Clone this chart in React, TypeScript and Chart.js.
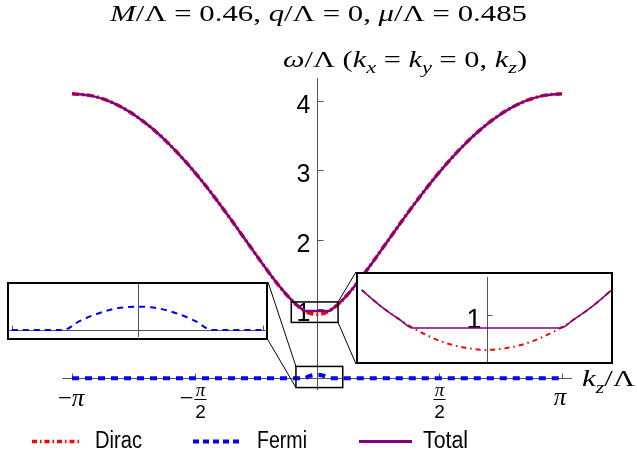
import React, { useEffect, useRef } from "react";
import { Chart, registerables } from "chart.js";
Chart.register(...registerables);

const PI = 3.14159;
// kz grid (units of Λ)
const kz = [-3.1416, -2.9, -2.7, -2.5, -2.3, -2.1, -1.9, -1.7, -1.5, -1.3, -1.1, -0.9, -0.7, -0.5, -0.35, -0.26, -0.22, -0.18, -0.154, -0.12, -0.08, -0.04, 0, 0.04, 0.08, 0.12, 0.154, 0.18, 0.22, 0.26, 0.35, 0.5, 0.7, 0.9, 1.1, 1.3, 1.5, 1.7, 1.9, 2.1, 2.3, 2.5, 2.7, 2.9, 3.1416];
const dirac = [4.104, 4.076, 4.010, 3.906, 3.765, 3.590, 3.381, 3.143, 2.878, 2.590, 2.284, 1.968, 1.652, 1.351, 1.154, 1.056, 1.019, 0.988, 0.970, 0.951, 0.934, 0.924, 0.920, 0.924, 0.934, 0.951, 0.970, 0.988, 1.019, 1.056, 1.154, 1.351, 1.652, 1.968, 2.284, 2.590, 2.878, 3.143, 3.381, 3.590, 3.765, 3.906, 4.010, 4.076, 4.104];
const fermi = [0, 0, 0, 0, 0, 0, 0, 0, 0, 0, 0, 0, 0, 0, 0, 0, 0, 0, 0, 0.019, 0.036, 0.047, 0.050, 0.047, 0.036, 0.019, 0, 0, 0, 0, 0, 0, 0, 0, 0, 0, 0, 0, 0, 0, 0, 0, 0, 0, 0];
const total = [4.104, 4.076, 4.010, 3.906, 3.765, 3.590, 3.381, 3.143, 2.878, 2.590, 2.284, 1.968, 1.652, 1.351, 1.154, 1.056, 1.019, 0.988, 0.970, 0.970, 0.970, 0.970, 0.970, 0.970, 0.970, 0.970, 0.970, 0.988, 1.019, 1.056, 1.154, 1.351, 1.652, 1.968, 2.284, 2.590, 2.878, 3.143, 3.381, 3.590, 3.765, 3.906, 4.010, 4.076, 4.104];

const seriesNames = ["Dirac", "Fermi", "Total"];
const yTicks = [1, 2, 3, 4];
const xTicks = [-PI, -PI / 2, PI / 2, PI];
const insetXTicks = [-0.26, 0.26];
const insetYTicks = [1];
const insetRange = 0.2601;

const SERIF = '"Liberation Serif", "Times New Roman", serif';
const SANS = '"Liberation Sans", Arial, sans-serif';
const RED = "#ff0000";
const BLUE = "#0000ff";
const PURPLE = "#800080";
const AXIS = "#555555";

type Run = { t: string; it?: boolean; sub?: boolean; sans?: boolean };

function drawRuns(
  ctx: CanvasRenderingContext2D,
  runs: Run[],
  x: number,
  y: number,
  size: number,
  align: "left" | "center" | "right" = "left",
  width?: number
) {
  const fonts = runs.map(
    (r) => `${r.it ? "italic " : ""}${r.sub ? Math.round(size * 0.72) : size}px ${r.sans ? SANS : SERIF}`
  );
  let w = 0;
  const ws = runs.map((r, i) => {
    ctx.font = fonts[i];
    const m = ctx.measureText(r.t).width;
    w += m;
    return m;
  });
  const sx = width ? width / w : 1;
  const tw = w * sx;
  const start = align === "center" ? x - tw / 2 : align === "right" ? x - tw : x;
  ctx.save();
  ctx.translate(start, y);
  ctx.scale(sx, 1);
  ctx.textAlign = "left";
  ctx.textBaseline = "alphabetic";
  ctx.fillStyle = "#000";
  let cx = 0;
  runs.forEach((r, i) => {
    ctx.font = fonts[i];
    ctx.fillText(r.t, cx, r.sub ? size * 0.28 : 0);
    cx += ws[i];
  });
  ctx.restore();
}

function line(ctx: CanvasRenderingContext2D, x1: number, y1: number, x2: number, y2: number) {
  ctx.beginPath();
  ctx.moveTo(x1, y1);
  ctx.lineTo(x2, y2);
  ctx.stroke();
}

function drawFraction(ctx: CanvasRenderingContext2D, cx: number) {
  ctx.save();
  ctx.fillStyle = "#000";
  ctx.textAlign = "center";
  ctx.textBaseline = "alphabetic";
  ctx.font = `italic 19px ${SERIF}`;
  ctx.fillText("π", cx, 396);
  ctx.strokeStyle = "#000";
  ctx.lineWidth = 1;
  line(ctx, cx - 6, 399.5, cx + 6, 399.5);
  ctx.font = `19px ${SANS}`;
  ctx.fillText("2", cx, 418);
  ctx.restore();
}

// Inset placement (page pixels)
const RIGHT_INSET = { left: 356, top: 272, width: 257, height: 92 };
const LEFT_INSET = { left: 7, top: 282, width: 261, height: 58 };
// Zoom rectangles in data coordinates
const upperRect = { x1: -0.33, x2: 0.27, y1: 0.805, y2: 1.1 };
const lowerRect = { x1: -0.27, x2: 0.33, y1: -0.135, y2: 0.17 };

const pts = (ys: number[]) => kz.map((k, i) => ({ x: k, y: ys[i] }));
const ptsInset = (ys: number[]) =>
  kz.map((k, i) => ({ x: k, y: ys[i] })).filter((p) => Math.abs(p.x) <= insetRange);

export default function App() {
  const mainRef = useRef<HTMLCanvasElement>(null);
  const rightRef = useRef<HTMLCanvasElement>(null);
  const leftRef = useRef<HTMLCanvasElement>(null);

  useEffect(() => {
    const mainPlugin = {
      id: "mainDecor",
      beforeDatasetsDraw(chart: any) {
        const { ctx, chartArea } = chart;
        const xs = chart.scales.x;
        const ys = chart.scales.y;
        const x0 = Math.round(xs.getPixelForValue(0)) + 0.5;
        const y0 = Math.round(ys.getPixelForValue(0)) + 0.5;
        ctx.save();
        ctx.strokeStyle = AXIS;
        ctx.lineWidth = 1;
        line(ctx, chartArea.left, y0, chartArea.right, y0);
        line(ctx, x0, chartArea.top, x0, chartArea.bottom);
        xTicks.forEach((v) => {
          const px = Math.round(xs.getPixelForValue(v)) + 0.5;
          line(ctx, px, y0, px, y0 - 5);
        });
        yTicks.forEach((v) => {
          const py = Math.round(ys.getPixelForValue(v)) + 0.5;
          line(ctx, x0, py, x0 + 6, py);
          drawRuns(ctx, [{ t: String(v), sans: true }], x0 - 7, py + 11.5, 25, "right");
        });
        // x tick labels
        const pxm = xs.getPixelForValue(xTicks[0]);
        drawRuns(ctx, [{ t: "−" }, { t: "π", it: true }], pxm - 1, 406, 25, "center");
        const pxh = xs.getPixelForValue(xTicks[1]);
        drawRuns(ctx, [{ t: "−" }], pxh - 8, 406, 25, "center");
        drawFraction(ctx, pxh + 6);
        drawFraction(ctx, xs.getPixelForValue(xTicks[2]));
        drawRuns(ctx, [{ t: "π", it: true }], xs.getPixelForValue(xTicks[3]) - 2, 405, 25, "center");
        ctx.restore();
      },
      afterDatasetsDraw(chart: any) {
        const { ctx } = chart;
        const xs = chart.scales.x;
        const ys = chart.scales.y;
        ctx.save();
        // zoom rectangles
        ctx.strokeStyle = "#000";
        ctx.lineWidth = 1.5;
        const rects = [upperRect, lowerRect].map((r) => ({
          l: xs.getPixelForValue(r.x1),
          r: xs.getPixelForValue(r.x2),
          t: ys.getPixelForValue(r.y2),
          b: ys.getPixelForValue(r.y1),
        }));
        rects.forEach((r) => ctx.strokeRect(r.l, r.t, r.r - r.l, r.b - r.t));
        // connectors
        ctx.lineWidth = 1;
        const u = rects[0];
        line(ctx, u.r, u.t, RIGHT_INSET.left, RIGHT_INSET.top);
        line(ctx, u.r, u.b, RIGHT_INSET.left, RIGHT_INSET.top + RIGHT_INSET.height);
        const lo = rects[1];
        line(ctx, lo.l, lo.t, LEFT_INSET.left + LEFT_INSET.width, LEFT_INSET.top);
        line(ctx, lo.l, lo.b, LEFT_INSET.left + LEFT_INSET.width, LEFT_INSET.top + LEFT_INSET.height);

        // title and axis labels
        drawRuns(
          ctx,
          [{ t: "M", it: true }, { t: "/Λ = 0.46, " }, { t: "q", it: true }, { t: "/Λ = 0, " }, { t: "μ", it: true }, { t: "/Λ = 0.485" }],
          110, 21, 23, "left", 417
        );
        drawRuns(
          ctx,
          [
            { t: "ω", it: true }, { t: "/Λ (" }, { t: "k", it: true }, { t: "x", it: true, sub: true }, { t: " = " },
            { t: "k", it: true }, { t: "y", it: true, sub: true }, { t: " = 0, " }, { t: "k", it: true }, { t: "z", it: true, sub: true }, { t: ")" },
          ],
          283, 67, 23, "left", 244
        );
        drawRuns(ctx, [{ t: "k", it: true }, { t: "z", it: true, sub: true }, { t: "/Λ" }], 582, 386, 24, "left", 53);

        // legend
        const ly = 441.5;
        const items = [
          { x1: 32, x2: 79, color: RED, w: 3.5, dash: [5, 3, 1.5, 3], tx: 95, tw: 47 },
          { x1: 193, x2: 242, color: BLUE, w: 4, dash: [6, 4], tx: 257, tw: 50 },
          { x1: 359, x2: 412, color: PURPLE, w: 3, dash: [], tx: 423, tw: 45 },
        ];
        items.forEach((it, i) => {
          ctx.strokeStyle = it.color;
          ctx.lineWidth = it.w;
          ctx.setLineDash(it.dash);
          line(ctx, it.x1, ly, it.x2, ly);
          ctx.setLineDash([]);
          drawRuns(ctx, [{ t: seriesNames[i], sans: true }], it.tx, 448, 23, "left", it.tw);
        });
        ctx.restore();
      },
    };

    const main = new Chart(mainRef.current!, {
      type: "line",
      data: {
        datasets: [
          { label: seriesNames[2], data: pts(total), borderColor: PURPLE, borderWidth: 2.5, order: 1 },
          { label: seriesNames[1], data: pts(fermi), borderColor: BLUE, borderWidth: 4, borderDash: [7, 6], order: 2 },
          { label: seriesNames[0], data: pts(dirac), borderColor: RED, borderWidth: 3.5, borderDash: [7, 3, 2, 3], order: 3 },
        ],
      },
      options: {
        animation: false,
        responsive: false,
        maintainAspectRatio: false,
        parsing: false as any,
        layout: { padding: { left: 62, right: 65, top: 78, bottom: 69 } },
        scales: {
          x: { type: "linear", min: -3.27, max: 3.27, display: false },
          y: { type: "linear", min: -0.17, max: 4.33, display: false },
        },
        elements: { point: { radius: 0 }, line: { cubicInterpolationMode: "monotone", fill: false } },
        plugins: { legend: { display: false }, tooltip: { enabled: false }, title: { display: false } },
      },
      plugins: [mainPlugin],
    } as any);

    const insetFrame = (id: string, drawAxes: (chart: any) => void) => ({
      id,
      beforeDraw(chart: any) {
        const { ctx, width, height } = chart;
        ctx.save();
        ctx.fillStyle = "#fff";
        ctx.fillRect(0, 0, width, height);
        ctx.restore();
      },
      beforeDatasetsDraw(chart: any) {
        chart.ctx.save();
        drawAxes(chart);
        chart.ctx.restore();
      },
      afterDraw(chart: any) {
        const { ctx, width, height } = chart;
        ctx.save();
        ctx.strokeStyle = "#000";
        ctx.lineWidth = 2;
        ctx.strokeRect(1, 1, width - 2, height - 2);
        ctx.restore();
      },
    });

    const right = new Chart(rightRef.current!, {
      type: "line",
      data: {
        datasets: [
          { label: seriesNames[2], data: ptsInset(total), borderColor: PURPLE, borderWidth: 1.5, order: 1 },
          { label: seriesNames[0], data: ptsInset(dirac), borderColor: RED, borderWidth: 2, borderDash: [5, 4, 1.5, 4], order: 2 },
        ],
      },
      options: {
        animation: false,
        responsive: false,
        maintainAspectRatio: false,
        parsing: false as any,
        layout: { padding: 0 },
        scales: {
          x: { type: "linear", min: -0.272, max: 0.263, display: false },
          y: { type: "linear", min: 0.888, max: 1.097, display: false },
        },
        elements: { point: { radius: 0 }, line: { cubicInterpolationMode: "monotone", fill: false } },
        plugins: { legend: { display: false }, tooltip: { enabled: false } },
      },
      plugins: [
        insetFrame("rightFrame", (chart: any) => {
          const { ctx, chartArea } = chart;
          const x0 = Math.round(chart.scales.x.getPixelForValue(0)) + 0.5;
          ctx.strokeStyle = AXIS;
          ctx.lineWidth = 1;
          line(ctx, x0, chartArea.top + 5, x0, chartArea.bottom);
          insetYTicks.forEach((v) => {
            const py = Math.round(chart.scales.y.getPixelForValue(v)) + 0.5;
            line(ctx, x0, py, x0 + 5, py);
            drawRuns(ctx, [{ t: String(v), sans: true }], x0 - 6, py + 12.5, 27, "right");
          });
        }),
      ],
    } as any);

    const left = new Chart(leftRef.current!, {
      type: "line",
      data: {
        datasets: [
          { label: seriesNames[1], data: ptsInset(fermi), borderColor: BLUE, borderWidth: 2, borderDash: [6, 5] },
        ],
      },
      options: {
        animation: false,
        responsive: false,
        maintainAspectRatio: false,
        parsing: false as any,
        layout: { padding: 0 },
        scales: {
          x: { type: "linear", min: -0.27, max: 0.27, display: false },
          y: { type: "linear", min: -0.0215, max: 0.103, display: false },
        },
        elements: { point: { radius: 0 }, line: { cubicInterpolationMode: "monotone", fill: false } },
        plugins: { legend: { display: false }, tooltip: { enabled: false } },
      },
      plugins: [
        insetFrame("leftFrame", (chart: any) => {
          const { ctx, chartArea } = chart;
          const x0 = Math.round(chart.scales.x.getPixelForValue(0)) + 0.5;
          const y0 = Math.round(chart.scales.y.getPixelForValue(0)) + 0.5;
          ctx.strokeStyle = AXIS;
          ctx.lineWidth = 1;
          line(ctx, chartArea.left, y0, chartArea.right, y0);
          line(ctx, x0, chartArea.top + 1, x0, chartArea.bottom - 3);
          insetXTicks.forEach((v) => {
            const px = Math.round(chart.scales.x.getPixelForValue(v)) + 0.5;
            line(ctx, px, y0, px, y0 - 5);
          });
        }),
      ],
    } as any);

    return () => {
      main.destroy();
      right.destroy();
      left.destroy();
    };
  }, []);

  return (
    <div style={{ position: "fixed", left: 0, top: 0, width: 637, height: 459, background: "#fff" }}>
      <canvas ref={mainRef} width={637} height={459} style={{ position: "absolute", left: 0, top: 0 }} />
      <canvas
        ref={leftRef}
        width={LEFT_INSET.width}
        height={LEFT_INSET.height}
        style={{ position: "absolute", left: LEFT_INSET.left, top: LEFT_INSET.top }}
      />
      <canvas
        ref={rightRef}
        width={RIGHT_INSET.width}
        height={RIGHT_INSET.height}
        style={{ position: "absolute", left: RIGHT_INSET.left, top: RIGHT_INSET.top }}
      />
    </div>
  );
}
